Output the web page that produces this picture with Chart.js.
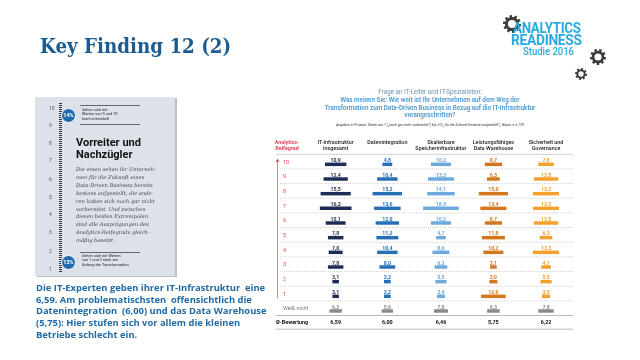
<!DOCTYPE html>
<html>
<head>
<meta charset="utf-8">
<script src="https://cdn.jsdelivr.net/npm/chart.js@4/dist/chart.umd.min.js"></script>
<style>
  body { margin:0; width:640px; height:360px; overflow:hidden; background:#fff; position:relative; font-family:Roboto, sans-serif; }
  #chart { position:absolute; left:0; top:0; }
  .abs { position:absolute; white-space:pre; }
  #title { left:40px; top:33px; font-family:"DejaVu Serif", serif; font-weight:bold; font-size:21px; color:#1d5c8f; transform:scaleX(0.87); transform-origin:left top; }
  #question { left:300px; width:260px; top:89px; text-align:center; color:#4a9ad4; font-size:6.3px; line-height:7.8px; }
  #question .q1 { color:#6f8fae; font-weight:normal; }
  #question b { font-weight:600; }
  #note { left:300px; width:260px; top:123px; text-align:center; font-size:3.6px; font-style:italic; color:#333; }
  #panel { left:35px; top:97px; width:140px; height:179px; background:#dde2ea; box-shadow:2px 1px 0 #b9c0cb; }
  .num { position:absolute; left:14px; font-size:5px; color:#555; transform:translateY(-50%); }
  #ruler { position:absolute; left:24px; top:6px; width:3px; height:170px; background:repeating-linear-gradient(to bottom,#333 0 1px,transparent 1px 2px); }
  .circ { position:absolute; left:26px; width:13px; height:13px; border-radius:50%; background:#1f6cb0; border:1px solid #fff; color:#fff; font-weight:bold; font-size:5.5px; line-height:13px; text-align:center; }
  .small { position:absolute; left:47px; font-size:3.9px; line-height:4.3px; color:#222; white-space:pre; }
  .rule { position:absolute; left:45px; width:60px; height:0; border-top:0.6px solid #666; }
  #head { position:absolute; left:41px; top:40px; font-weight:bold; font-size:11px; line-height:12px; color:#111; white-space:pre; }
  #body { position:absolute; left:41px; top:69px; font-family:"DejaVu Serif", serif; font-style:italic; font-size:5.2px; line-height:7.9px; color:#444; white-space:pre; }
  #summary { left:36px; top:282px; font-family:"Open Sans", sans-serif; font-weight:700; font-size:9.4px; line-height:11.7px; color:#1f6aa5; }
  #logo { position:absolute; left:500px; top:12px; }
  .lg { position:absolute; font-weight:bold; color:#29abe2; white-space:pre; letter-spacing:-0.3px; transform:scaleX(0.95); transform-origin:left top; }
</style>
</head>
<body>
<canvas id="chart" width="640" height="360"></canvas>

<div id="title" class="abs">Key Finding 12 (2)</div>

<canvas id="logo" width="110" height="75"></canvas>
<div class="lg" style="left:513px;top:20px;font-size:14px;">ANALYTICS</div>
<div class="lg" style="left:511px;top:32px;font-size:14.5px;">READINESS</div>
<div class="lg" style="left:523px;top:46px;font-size:10px;font-weight:500;letter-spacing:0;">Studie 2016</div>

<div id="question" class="abs"><span class="q1">Frage an IT-Leiter und IT-Spezialisten:</span>
<b>Was meinen Sie: Wie weit ist Ihr Unternehmen auf dem Weg der
Transformation zum Data-Driven Business in Bezug auf die IT-Infrastruktur
vorangeschritten?</b></div>
<div id="note" class="abs">Angaben in Prozent. Skala von 1 („noch gar nicht vorbereitet“) bis 10 („für die Zukunft bestens aufgestellt“). Basis: n = 129</div>

<div id="panel" class="abs">
  <div id="ruler"></div>
  <div class="num" style="top:11px">10</div>
  <div class="num" style="top:28px">9</div>
  <div class="num" style="top:46px">8</div>
  <div class="num" style="top:63px">7</div>
  <div class="num" style="top:82px">6</div>
  <div class="num" style="top:100px">5</div>
  <div class="num" style="top:117px">4</div>
  <div class="num" style="top:135px">3</div>
  <div class="num" style="top:154px">2</div>
  <div class="num" style="top:172px">1</div>
  <div class="rule" style="top:8px"></div>
  <div class="circ" style="top:11px">14%</div>
  <div class="small" style="top:11px">Sehen sich mit
Werten von 9 und 10
hoch entwickelt</div>
  <div class="rule" style="top:27px"></div>
  <div id="head">Vorreiter und
Nachzügler</div>
  <div id="body">Die einen sehen ihr Unterneh-
men für die Zukunft eines
Data-Driven Business bereits
bestens aufgestellt, die ande-
ren haben sich noch gar nicht
vorbereitet. Und zwischen
diesen beiden Extrempolen
sind alle Ausprägungen des
Analytics-Reifegrads gleich-
mäßig besetzt.</div>
  <div class="rule" style="top:155px"></div>
  <div class="circ" style="top:158px">13%</div>
  <div class="small" style="top:157px">Sehen sich mit Werten
von 1 und 2 noch am
Anfang der Transformation</div>
</div>

<div id="summary" class="abs">Die IT-Experten geben ihrer IT-Infrastruktur  eine
6,59. Am problematischsten  offensichtlich die
Datenintegration  (6,00) und das Data Warehouse
(5,75): Hier stufen sich vor allem die kleinen
Betriebe schlecht ein.</div>

<script>
// rows of the table (Analytics-Reifegrad 10 .. 1, then "weiß nicht" and the average row)
var rowLabels = ['10', '9', '8', '7', '6', '5', '4', '3', '2', '1', 'Weiß nicht', 'Ø-Bewertung'];

// Angaben in Prozent, rows 10..1 and "Weiß nicht"
var itInfrastruktur = [10.9, 12.4, 15.5, 16.3, 10.1, 7.8, 7.0, 7.8, 3.1, 3.1, 6.2];
var datenintegration = [4.8, 10.4, 15.2, 13.6, 12.0, 11.2, 10.4, 8.0, 3.2, 3.2, 5.6];
var speicher = [10.2, 13.3, 14.1, 18.4, 10.2, 4.7, 8.6, 6.3, 5.5, 3.9, 7.0];
var dataWarehouse = [8.7, 6.3, 15.0, 13.4, 8.7, 11.8, 10.2, 3.1, 3.9, 12.6, 6.3];
var sicherheit = [7.8, 12.5, 13.3, 13.3, 12.5, 6.3, 13.3, 4.7, 5.5, 3.9, 7.8];

// Ø-Bewertung per column
var averages = [6.59, 6.00, 6.46, 5.75, 6.22];

var columnHeaders = [
	['IT-Infrastruktur', 'insgesamt'],
	['Datenintegration'],
	['Skalierbare', 'Speicherinfrastruktur'],
	['Leistungsfähiges', 'Data Warehouse'],
	['Sicherheit und', 'Governance']
];

// layout: column centres on the x scale (scale is in percent units)
var colCenters = [31.4, 58.6, 86.8, 114.4, 142.1];
var colColors = ['#1c2c54', '#2570b6', '#6ea9dd', '#d4761e', '#f3a12c'];
var grey = '#8a8a8a';

function fmt(v, d) { return v.toFixed(d).replace('.', ','); }

var series = [itInfrastruktur, datenintegration, speicher, dataWarehouse, sicherheit];
var datasets = series.map(function(vals, j) {
	var data = vals.map(function(v) { return [colCenters[j] - v / 2, colCenters[j] + v / 2]; });
	data.push(null);
	var colors = vals.map(function(v, i) { return i == 10 ? grey : colColors[j]; });
	colors.push(grey);
	return { label: columnHeaders[j].join(' '), data: data, backgroundColor: colors, barThickness: 2.8, grouped: false };
});

var tablePlugin = {
	id: 'table',
	afterDraw: function(chart) {
		var ctx = chart.ctx, x = chart.scales.x, y = chart.scales.y;
		var left = 276, right = 573;
		var cy = rowLabels.map(function(l, i) { return y.getPixelForValue(i); });
		ctx.save();
		ctx.textAlign = 'center';
		ctx.textBaseline = 'middle';

		// column headers
		ctx.font = '500 5.4px Roboto';
		ctx.fillStyle = '#222';
		columnHeaders.forEach(function(h, j) {
			var px = x.getPixelForValue(colCenters[j]);
			h.forEach(function(line, k) { ctx.fillText(line, px, cy[0] - 21.5 + k * 5.6); });
		});
		ctx.font = 'bold 5.4px Roboto';
		ctx.fillStyle = '#d9475a';
		ctx.fillText('Analytics-', 287, cy[0] - 21.5);
		ctx.fillText('Reifegrad', 287, cy[0] - 15.9);

		// header line
		ctx.strokeStyle = '#bbb';
		ctx.lineWidth = 0.7;
		ctx.beginPath(); ctx.moveTo(left, cy[0] - 10); ctx.lineTo(right, cy[0] - 10); ctx.stroke();

		// row separators
		ctx.setLineDash([1, 1]);
		ctx.strokeStyle = '#c4c4c4';
		for (var i = 0; i < 10; i++) {
			ctx.beginPath(); ctx.moveTo(left + 4, cy[i] + 4.5); ctx.lineTo(right, cy[i] + 4.5); ctx.stroke();
		}
		ctx.setLineDash([]);
		ctx.strokeStyle = '#aaa';
		ctx.lineWidth = 0.8;
		ctx.beginPath(); ctx.moveTo(left, cy[10] + 4.5); ctx.lineTo(right, cy[10] + 4.5); ctx.stroke();
		ctx.beginPath(); ctx.moveTo(left, cy[11] + 3.5); ctx.lineTo(right, cy[11] + 3.5); ctx.stroke();

		// red axis with arrow
		ctx.strokeStyle = '#d9475a';
		ctx.lineWidth = 0.7;
		ctx.beginPath(); ctx.moveTo(277.5, cy[9] + 2); ctx.lineTo(277.5, cy[0] - 3); ctx.stroke();
		ctx.fillStyle = '#d9475a';
		ctx.beginPath(); ctx.moveTo(277.5, cy[0] - 5.5); ctx.lineTo(275.6, cy[0] - 2.5); ctx.lineTo(279.4, cy[0] - 2.5); ctx.closePath(); ctx.fill();

		ctx.textAlign = 'left';
		ctx.font = '5.4px Roboto';
		for (i = 0; i < 10; i++) ctx.fillText(rowLabels[i], 283, cy[i] - 2);
		ctx.fillStyle = '#777';
		ctx.fillText(rowLabels[10], 283, cy[10] - 2.5);
		ctx.fillStyle = '#111';
		ctx.font = 'bold 5.4px Roboto';
		ctx.fillText(rowLabels[11], 276, cy[11] - 3);

		// value labels
		ctx.textAlign = 'center';
		series.forEach(function(vals, j) {
			var px = x.getPixelForValue(colCenters[j]);
			ctx.font = 'bold 5.2px Roboto';
			vals.forEach(function(v, i) {
				ctx.fillStyle = i == 10 ? grey : colColors[j];
				ctx.fillText(fmt(v, 1), px, cy[i] - 3.8);
			});
			ctx.font = 'bold 5.4px Roboto';
			ctx.fillStyle = '#111';
			ctx.fillText(fmt(averages[j], 2), px, cy[11] - 3);
		});
		ctx.restore();
	}
};

var ctx = document.getElementById('chart').getContext('2d');
var myChart = new Chart(ctx, {
	type: 'bar',
	data: { labels: rowLabels, datasets: datasets },
	options: {
		indexAxis: 'y',
		responsive: false,
		animation: false,
		layout: { padding: { left: 276, right: 67, top: 157, bottom: 27 } },
		scales: {
			x: { type: 'linear', min: 0, max: 156.3, display: false },
			y: { display: false }
		},
		plugins: { legend: { display: false }, tooltip: { enabled: false } }
	},
	plugins: [tablePlugin]
});

// gears of the logo
function gear(g, cx, cy, r, teeth) {
	g.beginPath();
	for (var i = 0; i < teeth * 2; i++) {
		var a0 = i * Math.PI / teeth, a1 = (i + 1) * Math.PI / teeth;
		var rr = i % 2 == 0 ? r : r * 0.78;
		g.arc(cx, cy, rr, a0, a1);
	}
	g.closePath();
	g.fill();
	g.save();
	g.globalCompositeOperation = 'destination-out';
	g.beginPath(); g.arc(cx, cy, r * 0.45, 0, Math.PI * 2); g.fill();
	g.restore();
}
var lg = document.getElementById('logo').getContext('2d');
lg.fillStyle = '#3b3b3b';
gear(lg, 12, 12, 9, 10);
gear(lg, 98, 45, 8, 9);
gear(lg, 81, 62, 6, 8);
</script>
</body>
</html>
